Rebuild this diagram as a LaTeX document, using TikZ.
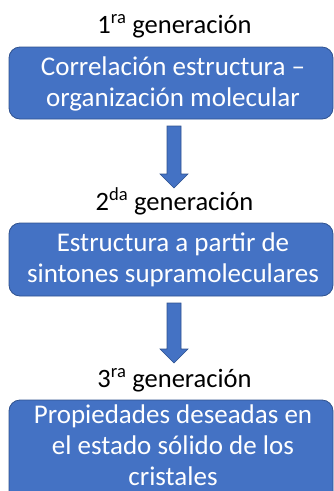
\documentclass[tikz,border=0pt]{standalone}
\usepackage{fontspec}
\setmainfont{Carlito}
\usetikzlibrary{calc}
\definecolor{boxfill}{HTML}{4472C4}
\definecolor{boxline}{HTML}{2F528F}
\tikzset{
  gentitle/.style={font=\fontsize{26.5}{31}\selectfont, text=black, inner sep=0pt, anchor=base},
  genbox/.style={draw=boxline, fill=boxfill, line width=0.8pt, rounded corners=11pt,
    minimum width=324pt},
  boxtext/.style={text=white, align=flush center, text width=320pt, inner sep=0pt,
    font=\fontsize{27}{31}\selectfont},
  blockarrow/.style={fill=boxfill, draw=boxline, line width=0.6pt}
}
\newcommand\myblockarrow[2]{%
  \path[blockarrow] ($(#1)+(-7,0)$) -- ($(#1)+(7,0)$) -- ($(#2)+(7,-14)$) -- ($(#2)+(14,-14)$)
    -- (#2) -- ($(#2)+(-14,-14)$) -- ($(#2)+(-7,-14)$) -- cycle;}
\begin{document}
\begin{tikzpicture}[x=1pt,y=-1pt]
  \clip (0,0) rectangle (334,491);
  \node[gentitle] (t1) at (174.5,33) {1\textsuperscript{ra} generación};
  \node[genbox, minimum height=72pt] (b1) at (171,83) {};
  \node[boxtext] (b1t) at (173,84) {Correlación estructura –\\organización molecular};
  \coordinate (a1s) at (174,126);
  \coordinate (a1e) at (174,188);
  \myblockarrow{a1s}{a1e}
  \node[gentitle] (t2) at (174.5,210) {2\textsuperscript{da} generación};
  \node[genbox, minimum height=73pt] (b2) at (171,259.5) {};
  \node[boxtext] (b2t) at (173,260) {Estructura a partir de\\sintones supramoleculares};
  \coordinate (a2s) at (174,303);
  \coordinate (a2e) at (174,363);
  \myblockarrow{a2s}{a2e}
  \node[gentitle] (t3) at (174.5,387) {3\textsuperscript{ra} generación};
  \node[genbox, minimum height=110pt] (b3) at (171,455) {};
  \node[boxtext] (b3t) at (173,445) {Propiedades deseadas en\\el estado sólido de los\\cristales};
\end{tikzpicture}
\end{document}
